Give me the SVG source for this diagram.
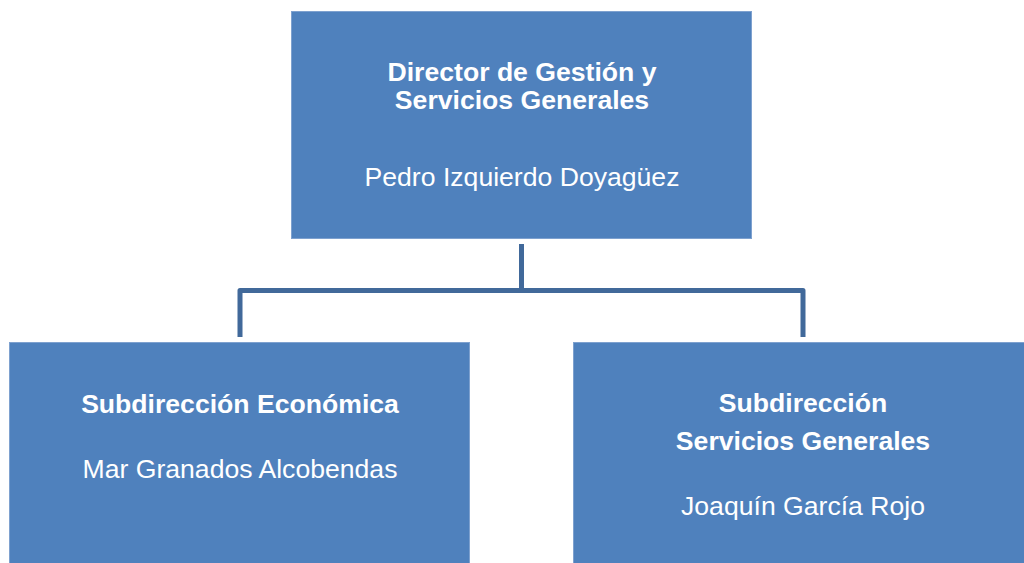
<svg xmlns="http://www.w3.org/2000/svg" width="1024" height="563" viewBox="0 0 1024 563">
<style>
.box{fill:#4F81BD;stroke:#7EA1CF;stroke-width:1}
.t{font-family:"Liberation Sans",Arial,sans-serif;font-size:26.6px;fill:#FFFFFF;text-anchor:middle}
.b{font-weight:bold}
.conn{fill:none;stroke:#41699A;stroke-width:5;stroke-linejoin:round}
</style>
<rect width="1024" height="563" fill="#FFFFFF"/>
<g id="connectors">
<path class="conn" d="M521.5,244 V290.5"/>
<path class="conn" d="M240,337 V290.5 H803 V337"/>
</g>
<g id="director">
<rect class="box" x="291.5" y="11.5" width="460" height="227"/>
<text class="t b" x="522" y="81">Director de Gestión y</text>
<text class="t b" x="522" y="109">Servicios Generales</text>
<text class="t" x="522" y="186">Pedro Izquierdo Doyagüez</text>
</g>
<g id="sub-economica">
<rect class="box" x="9.5" y="342.5" width="460" height="227"/>
<text class="t b" x="240" y="413">Subdirección Económica</text>
<text class="t" x="240" y="478">Mar Granados Alcobendas</text>
</g>
<g id="sub-servicios">
<rect class="box" x="573.5" y="342.5" width="460" height="227"/>
<text class="t b" x="803" y="412">Subdirección</text>
<text class="t b" x="803" y="450">Servicios Generales</text>
<text class="t" x="803" y="515">Joaquín García Rojo</text>
</g>
</svg>
